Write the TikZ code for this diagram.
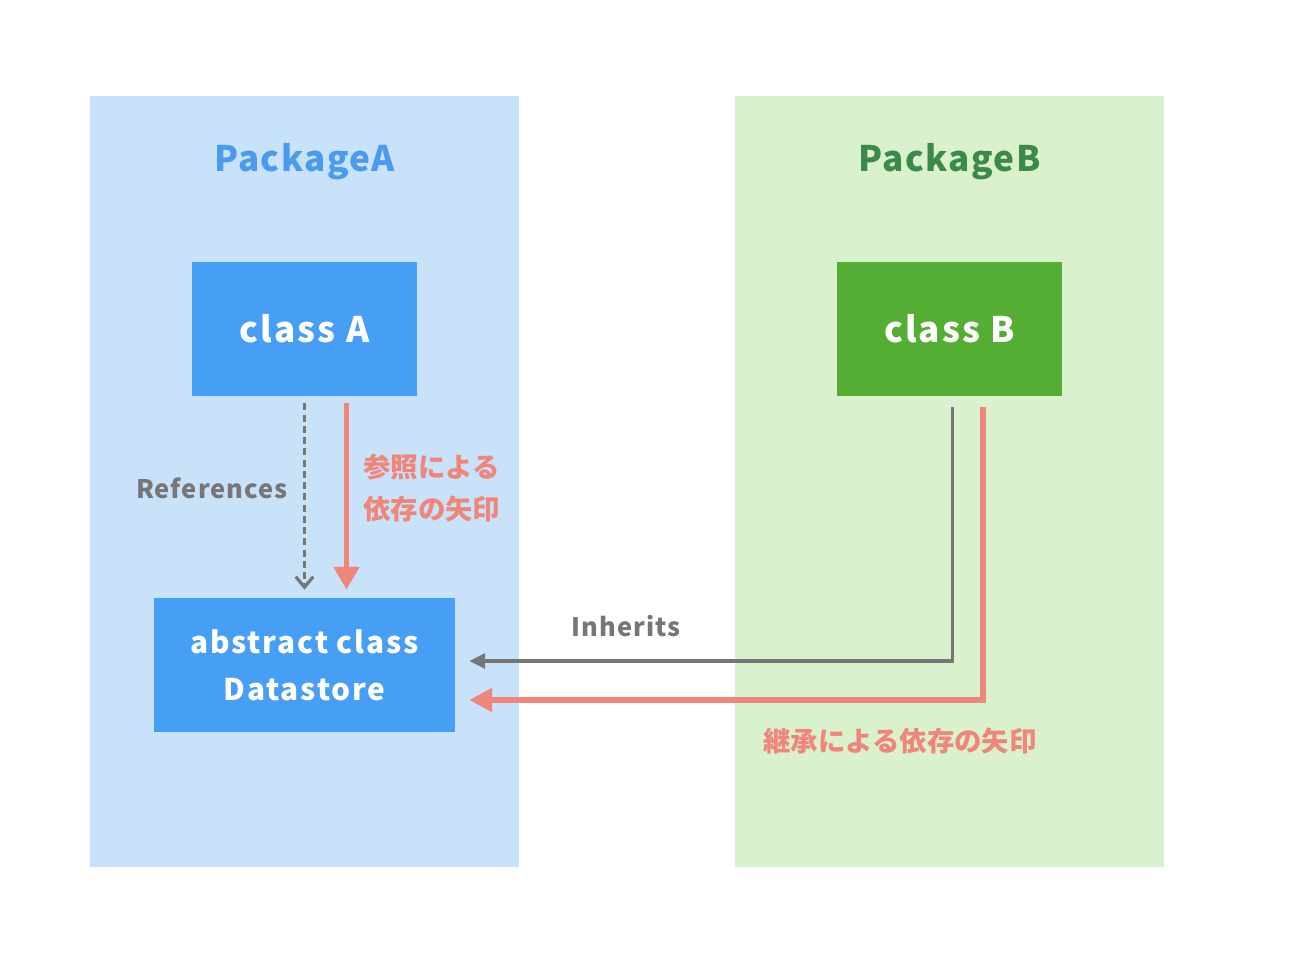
\documentclass[tikz,border=0pt]{standalone}
\usepackage{fontspec}
\setmainfont{Noto Sans CJK JP}
\newfontfamily\spacedfont[LetterSpace=4]{Noto Sans CJK JP}
\newfontfamily\widefont[LetterSpace=6]{Noto Sans CJK JP}
\usetikzlibrary{arrows.meta,calc}
\definecolor{bgA}{HTML}{C8E2FA}
\definecolor{bgB}{HTML}{DAF1CE}
\definecolor{boxA}{HTML}{479EF5}
\definecolor{boxB}{HTML}{55AE34}
\definecolor{txtA}{HTML}{4A9BF0}
\definecolor{txtB}{HTML}{3C8A4A}
\definecolor{lgray}{HTML}{767676}
\definecolor{lred}{HTML}{F0857A}
\tikzset{
  pkg/.style={fill=#1, draw=none, minimum width=8.58cm, minimum height=15.42cm, inner sep=0pt},
  pkgtitle/.style={text=#1, font=\spacedfont\fontsize{20}{24}\selectfont\bfseries},
  cls/.style={fill=#1, draw=none, text=white, font=\widefont\fontsize{20}{24}\selectfont\bfseries, minimum width=4.5cm, minimum height=2.68cm, inner sep=0pt},
  glabel/.style={text=lgray, font=\spacedfont\fontsize{14.5}{18}\selectfont\bfseries, inner sep=0pt},
  rlabel/.style={text=lred, font=\fontsize{15.6}{24}\selectfont\bfseries, inner sep=0pt, align=left},
  grayarrow/.style={draw=lgray, line width=1.8pt},
  redarrow/.style={draw=lred, line width=3.4pt},
}
\begin{document}
\begin{tikzpicture}[x=0.02cm,y=-0.02cm]
\useasboundingbox (0,0) rectangle (1300,975);
\node[pkg=bgA] (PA) at (304.5,481.5) {};
\node[pkg=bgB] (PB) at (949.5,481.5) {};
\node[pkgtitle=txtA] (TA) at (304.5,162) {PackageA};
\node[pkgtitle=txtB] (TB) at (949.5,162) {PackageB};
\node[cls=boxA] (A) at (304.5,329) {class A};
\node[cls=boxB] (B) at (949.5,329) {class B};
\node[cls=boxA, minimum width=6.02cm, font=\widefont\fontsize{17}{27}\selectfont\bfseries, align=center] (D) at (304.5,665) {abstract class\\Datastore};
% references
\draw[grayarrow, line width=2.2pt, dash pattern=on 4pt off 2.4pt, -{Straight Barb[length=6pt,width=10pt,line width=1.8pt]}]
  ($(A.south)+(0,7)$) -- ($(D.north)+(0,-8)$);
\draw[redarrow, -{Triangle[length=13pt,width=14pt]}]
  ($(A.south)+(42,7)$) -- ($(D.north)+(42,-8)$);
\node[glabel, anchor=east] (Lref) at (288,488) {References};
\node[rlabel, anchor=west] (Ldep) at (363,488) {参照による\\依存の矢印};
% inherits
\draw[grayarrow, -{Triangle[length=9pt,width=8.5pt]}]
  ($(B.south)+(3,11)$) |- ($(D.east)+(14,-4)$);
\draw[redarrow, -{Triangle[length=13pt,width=13pt]}]
  ($(B.south)+(33,11)$) |- ($(D.east)+(14,35)$);
\node[glabel] (Linh) at (626,626) {Inherits};
\node[rlabel] (Linh2) at (900,741) {継承による依存の矢印};
\end{tikzpicture}
\end{document}
